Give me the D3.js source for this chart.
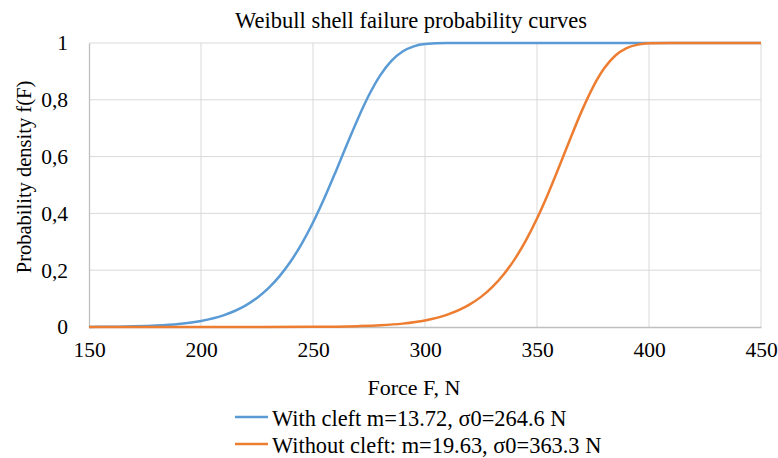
<!DOCTYPE html>
<html><head><meta charset="utf-8">
<script src="https://cdn.jsdelivr.net/npm/d3@7"></script>
<style>body{margin:0;background:#fff}</style>
</head><body><svg id="c" width="778" height="458"></svg>
<script>
const forceWith = [150,160,170,180,190,200,210,215,220,225,230,235,240,245,250,255,260,265,270,275,280,285,290,295,300,310,320,350,400,450];
const probWith  = [0.0004,0.001,0.0023,0.005,0.0106,0.0213,0.0411,0.0563,0.0763,0.1025,0.1361,0.1783,0.2306,0.2938,0.368,0.4524,0.5444,0.6397,0.7327,0.8168,0.8862,0.9374,0.9703,0.9883,0.9963,0.9998,1,1,1,1];
const forceWithout = [150,200,250,270,280,290,300,310,320,325,330,335,340,345,350,355,360,365,370,375,380,385,390,395,400,410,450];
const probWithout  = [0,0.00001,0.0006,0.003,0.006,0.0119,0.023,0.0434,0.0795,0.1061,0.1406,0.1841,0.2383,0.3041,0.3818,0.4702,0.5666,0.6658,0.761,0.8448,0.9108,0.956,0.9821,0.9943,0.9987,1,1];
const xTicks = [150,200,250,300,350,400,450];
const yTicks = [0,0.2,0.4,0.6,0.8,1];
const seriesNames = ["With cleft m=13.72, σ0=264.6 N","Without cleft: m=19.63, σ0=363.3 N"];
const colors = ["#5b9bd5","#ed7d31"];

const FONT = "Liberation Serif";
const svg = d3.select("#c");
const x = d3.scaleLinear().domain([150,450]).range([89,761]);
const y = d3.scaleLinear().domain([0,1]).range([327,43]);

// gridlines
svg.append("g").selectAll("line").data(xTicks.slice(1)).join("line")
  .attr("x1",d=>x(d)).attr("x2",d=>x(d)).attr("y1",y(0)).attr("y2",y(1))
  .attr("stroke","#d9d9d9").attr("stroke-width",1);
svg.append("g").selectAll("line").data(yTicks.slice(1)).join("line")
  .attr("x1",x(150)).attr("x2",x(450)).attr("y1",d=>y(d)).attr("y2",d=>y(d))
  .attr("stroke","#d9d9d9").attr("stroke-width",1);

// axes
const fmt = d => d===0?"0":d===1?"1":String(d).replace(".",",");
const yAxis = svg.append("g").attr("transform",`translate(${x(150)},0)`)
  .call(d3.axisLeft(y).tickValues(yTicks).tickFormat(fmt).tickSize(0).tickPadding(21));
const xAxis = svg.append("g").attr("transform",`translate(0,${y(0)})`)
  .call(d3.axisBottom(x).tickValues(xTicks).tickFormat(d3.format("d")).tickSize(0).tickPadding(15));
[xAxis,yAxis].forEach(a=>{a.attr("font-family",FONT).attr("font-size",21.5);
  a.select(".domain").attr("stroke","#bfbfbf").attr("stroke-width",1.3);
  a.selectAll("text").attr("fill","#000");});

// lines
const line = d3.line().x(d=>x(d[0])).y(d=>y(d[1])).curve(d3.curveMonotoneX);
const sets = [d3.zip(forceWith,probWith), d3.zip(forceWithout,probWithout)];
sets.forEach((s,i)=>svg.append("path").datum(s).attr("d",line)
  .attr("fill","none").attr("stroke",colors[i]).attr("stroke-width",2.5).attr("stroke-linejoin","round"));

// title & labels
const T = (sel)=>sel.attr("font-family",FONT).attr("fill","#000");
T(svg.append("text")).attr("x",411).attr("y",28).attr("text-anchor","middle").attr("font-size",22.5)
  .text("Weibull shell failure probability curves");
T(svg.append("text")).attr("x",414).attr("y",395).attr("text-anchor","middle").attr("font-size",22)
  .text("Force F, N");
T(svg.append("text")).attr("transform","translate(31,177) rotate(-90)").attr("text-anchor","middle").attr("font-size",20.5)
  .text("Probability density f(F)");

// legend
const lg = svg.append("g");
seriesNames.forEach((n,i)=>{
  const yy = 417 + i*27;
  lg.append("line").attr("x1",235).attr("x2",268).attr("y1",yy).attr("y2",yy)
    .attr("stroke",colors[i]).attr("stroke-width",2.5);
  T(lg.append("text")).attr("x",272).attr("y",yy+9).attr("font-size",22.4).text(n);
});
</script></body></html>
